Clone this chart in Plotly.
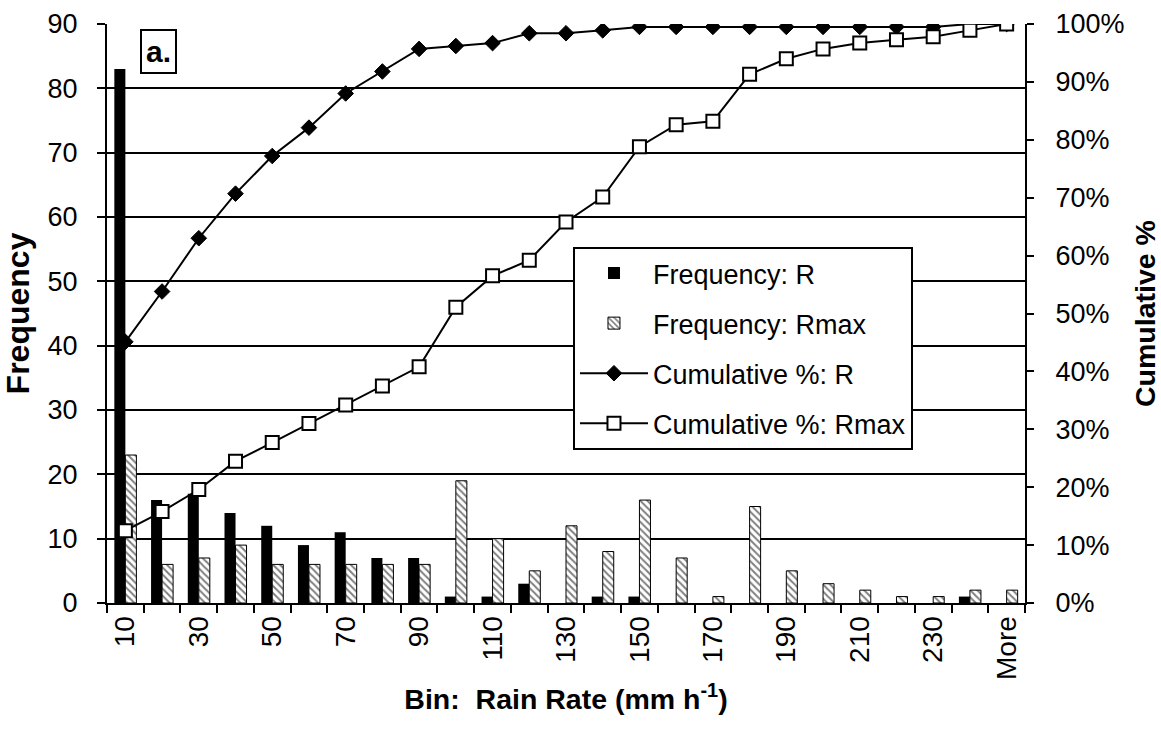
import plotly.graph_objects as go

categories = ["10", "20", "30", "40", "50", "60", "70", "80", "90", "100", "110", "120", "130",
              "140", "150", "160", "170", "180", "190", "200", "210", "220", "230", "240", "More"]
tick_labels = ["10", "", "30", "", "50", "", "70", "", "90", "", "110", "", "130",
               "", "150", "", "170", "", "190", "", "210", "", "230", "", "More"]

freq_r = [83, 16, 17, 14, 12, 9, 11, 7, 7, 1, 1, 3, 0, 1, 1, 0, 0, 0, 0, 0, 0, 0, 0, 1, 0]
freq_rmax = [23, 6, 7, 9, 6, 6, 6, 6, 6, 19, 10, 5, 12, 8, 16, 7, 1, 15, 5, 3, 2, 1, 1, 2, 2]

cum_r = [45.1, 53.8, 63.0, 70.7, 77.2, 82.1, 88.0, 91.8, 95.7, 96.2, 96.7, 98.4, 98.4,
         98.9, 99.5, 99.5, 99.5, 99.5, 99.5, 99.5, 99.5, 99.5, 99.5, 100.0, 100.0]
cum_rmax = [12.5, 15.8, 19.6, 24.5, 27.7, 31.0, 34.2, 37.5, 40.8, 51.1, 56.5, 59.2, 65.8,
            70.1, 78.8, 82.6, 83.2, 91.3, 94.0, 95.7, 96.7, 97.3, 97.8, 98.9, 100.0]

FONT = "Liberation Sans, Arial, Helvetica, sans-serif"

fig = go.Figure()
fig.add_trace(go.Bar(
    x=categories, y=freq_r, name="Frequency: R", legendgroup="a",
    marker=dict(color="black", line=dict(color="black", width=0)),
))
fig.add_trace(go.Bar(
    x=categories, y=freq_rmax, name="Frequency: Rmax", legendgroup="b",
    marker=dict(color="white", line=dict(color="black", width=1),
                pattern=dict(shape="\\", fgcolor="black", bgcolor="white",
                             size=5, solidity=0.4, fillmode="overlay")),
))
fig.add_trace(go.Scatter(
    x=categories, y=cum_r, name="Cumulative %: R", legendgroup="c", yaxis="y2",
    mode="lines+markers",
    line=dict(color="black", width=2),
    marker=dict(symbol="diamond", size=12, color="black", line=dict(color="black", width=1)),
))
fig.add_trace(go.Scatter(
    x=categories, y=cum_rmax, name="Cumulative %: Rmax", legendgroup="d", yaxis="y2",
    mode="lines+markers",
    line=dict(color="black", width=2),
    marker=dict(symbol="square", size=13, color="white", line=dict(color="black", width=2)),
))

fig.update_layout(
    template="none",
    width=1161, height=729,
    margin=dict(l=107, r=136, t=24, b=126, autoexpand=False),
    paper_bgcolor="white", plot_bgcolor="white",
    font=dict(family=FONT, size=26, color="black"),
    barmode="group", bargap=0.4, bargroupgap=0.0,
    showlegend=True,
    legend=dict(
        x=0.5076, y=0.6149, xanchor="left", yanchor="top",
        bgcolor="white", bordercolor="black", borderwidth=2,
        font=dict(family=FONT, size=27, color="black"),
        traceorder="grouped", tracegroupgap=12, itemwidth=68,
    ),
    xaxis=dict(
        type="category", categoryorder="array", categoryarray=categories,
        range=[-0.5, 24.5],
        tickmode="array", tickvals=categories, ticktext=tick_labels,
        tickson="boundaries", ticks="outside", ticklen=8, tickwidth=1.5, tickcolor="black",
        tickangle=-90, tickfont=dict(family=FONT, size=28),
        showline=True, linecolor="black", linewidth=2, mirror=False,
        showgrid=False, zeroline=False,
        title=dict(text="<b>Bin:  Rain Rate (mm h<sup>-1</sup>)</b>", font=dict(family=FONT, size=28.5),
                   standoff=10),
    ),
    yaxis=dict(
        range=[0, 90], dtick=10, tick0=0,
        ticks="outside", ticklen=8, tickwidth=1.5, tickcolor="black",
        tickfont=dict(family=FONT, size=27), ticklabelstandoff=14,
        showline=True, linecolor="black", linewidth=2,
        showgrid=True, gridcolor="black", gridwidth=2, zeroline=False,
        title=dict(text="<b>Frequency</b>", font=dict(family=FONT, size=32), standoff=16),
    ),
    yaxis2=dict(
        range=[0, 100], dtick=10, tick0=0, ticksuffix="%",
        overlaying="y", side="right", anchor="x",
        ticks="outside", ticklen=7, tickwidth=1.5, tickcolor="black",
        tickfont=dict(family=FONT, size=27), ticklabelstandoff=16,
        showline=True, linecolor="black", linewidth=2,
        showgrid=False, zeroline=False,
        title=dict(text="<b>Cumulative %</b>", font=dict(family=FONT, size=28.5), standoff=12),
    ),
    annotations=[dict(
        text="<b>a.</b>", xref="paper", yref="paper", x=0.036, y=0.992,
        xanchor="left", yanchor="top", showarrow=False,
        font=dict(family=FONT, size=30, color="black"),
        bordercolor="black", borderwidth=2, borderpad=4, bgcolor="white",
    )],
)

fig.write_html("out.html")
